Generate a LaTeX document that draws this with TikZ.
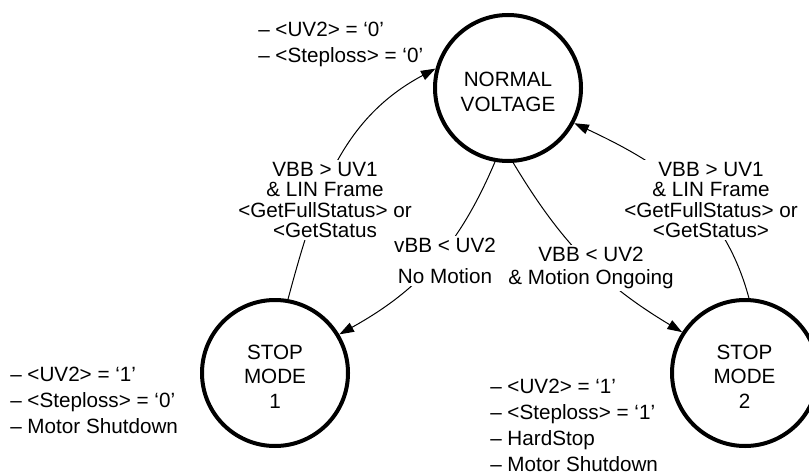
\documentclass[tikz,border=0pt]{standalone}
\usepackage{fontspec}
\setmainfont{Liberation Sans}
\usetikzlibrary{arrows.meta}
\begin{document}
\begin{tikzpicture}[x=0.75pt,y=-0.75pt,
  state/.style={circle,draw,line width=3pt,minimum size=109.5pt,inner sep=0pt},
  statetxt/.style={align=center,inner sep=0pt,font=\fontsize{15.5}{18.4}\selectfont},
  conn/.style={line width=0.75pt,-{Triangle[length=11pt,width=7.5pt]}},
  lbl/.style={fill=white,inner sep=1.5pt,align=center,font=\fontsize{15.5}{15.4}\selectfont},
  note/.style={align=left,anchor=west,inner sep=0pt,font=\fontsize{15.5}{19.5}\selectfont}]
\useasboundingbox (0,0) rectangle (809,474);

% states
\node[state] (nv) at (508,88) {};
\node[statetxt] (nvt) at (508,92) {NORMAL\\VOLTAGE};
\node[state] (s1) at (275,373) {};
\node[statetxt] (s1t) at (275,376.5) {STOP\\MODE\\1};
\node[state] (s2) at (745,373) {};
\node[statetxt] (s2t) at (744.5,376.5) {STOP\\MODE\\2};

% connectors
\draw[conn] (s1.80) to[out=75,in=208] (nv.165);
\draw[conn] (nv.260) to[out=247,in=29] (s1.31.5);
\draw[conn] (nv.274) to[out=301,in=149] (s2.147);
\draw[conn] (s2.87) to[out=105,in=335] (nv.332);

% connector labels
\node[lbl] (l1) at (325,200) {VBB > UV1\\\& LIN Frame\\<GetFullStatus> or\\<GetStatus};
\node[lbl] (l2) at (711,200) {VBB > UV1\\\& LIN Frame\\<GetFullStatus> or\\<GetStatus>};
\node[lbl,font=\fontsize{15.5}{23.25}\selectfont] (l3) at (445,261) {vBB < UV2\\No Motion};
\node[lbl,font=\fontsize{15.5}{17}\selectfont] (l4) at (591,268) {VBB < UV2\\\& Motion Ongoing};

% notes
\node[note] (n1) at (258,44) {– <UV2> = ‘0’\\– <Steploss> = ‘0’};
\node[note] (n2) at (10,400) {– <UV2> = ‘1’\\– <Steploss> = ‘0’\\– Motor Shutdown};
\node[note] (n3) at (490,425) {– <UV2> = ‘1’\\– <Steploss> = ‘1’\\– HardStop\\– Motor Shutdown};
\end{tikzpicture}
\end{document}
